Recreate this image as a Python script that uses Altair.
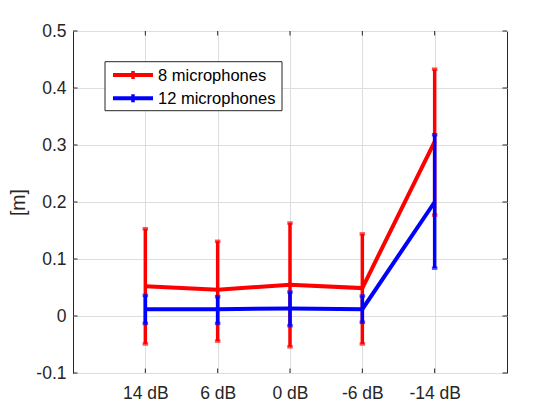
import json
import altair as alt
import pandas as pd

categories = ["14 dB", "6 dB", "0 dB", "-6 dB", "-14 dB"]
series_names = ["8 microphones", "12 microphones"]
series_colors = ["#ff0000", "#0000ff"]
red_mean = [0.052, 0.046, 0.055, 0.049, 0.306]
red_low = [-0.049, -0.044, -0.054, -0.049, 0.177]
red_high = [0.153, 0.131, 0.163, 0.144, 0.433]
blue_mean = [0.012, 0.012, 0.013, 0.012, 0.200]
blue_low = [-0.013, -0.013, -0.017, -0.011, 0.084]
blue_high = [0.036, 0.034, 0.042, 0.035, 0.318]
y_ticks = [-0.1, 0.0, 0.1, 0.2, 0.3, 0.4, 0.5]

rows = []
for name, m, lo, hi in [(series_names[0], red_mean, red_low, red_high),
                        (series_names[1], blue_mean, blue_low, blue_high)]:
    for i, c in enumerate(categories):
        rows.append({"series": name, "x": i + 1, "mean": m[i], "lo": lo[i], "hi": hi[i]})
df = pd.DataFrame(rows)

W, H = 434, 342
FONT = "Liberation Sans"
TXT = "#262626"
FS = 17.5

label_expr = json.dumps(categories) + "[datum.value - 1]"
xscale = alt.Scale(domain=[0, 6], nice=False, zero=False)
yscale = alt.Scale(domain=[-0.1, 0.5], nice=False, zero=False)

xaxis = alt.Axis(values=[1, 2, 3, 4, 5], labelExpr=label_expr, title=None,
                 grid=True, labelPadding=11)
yaxis = alt.Axis(values=y_ticks, labelExpr="replace(format(datum.value, '.1~f'), '\u2212', '-')",
                 title="[m]", grid=True, labelPadding=7, titlePadding=7,
                 titleFontSize=19.5)

layers = []
for k, name in enumerate(series_names):
    d = df[df.series == name]
    base = alt.Chart(d)
    col = series_colors[k]
    if k == 0:
        line = base.mark_line(strokeWidth=4, color=col).encode(
            x=alt.X("x:Q", scale=xscale, axis=xaxis),
            y=alt.Y("mean:Q", scale=yscale, axis=yaxis),
        )
    else:
        line = base.mark_line(strokeWidth=4, color=col).encode(
            x=alt.X("x:Q", scale=xscale),
            y=alt.Y("mean:Q", scale=yscale),
        )
    bars = base.mark_rule(strokeWidth=3.5, color=col).encode(
        x="x:Q", y="lo:Q", y2="hi:Q")
    cap_lo = base.mark_tick(thickness=3.5, size=5.5, color=col, orient="horizontal").encode(
        x="x:Q", y="lo:Q")
    cap_hi = base.mark_tick(thickness=3.5, size=5.5, color=col, orient="horizontal").encode(
        x="x:Q", y="hi:Q")
    layers += [line, bars, cap_lo, cap_hi]

xt = pd.DataFrame({"v": [1, 2, 3, 4, 5]})
yt = pd.DataFrame({"v": y_ticks})
tick_c = TXT
tx_bot = alt.Chart(xt).mark_rule(color=tick_c, strokeWidth=1).encode(
    x="v:Q", y=alt.value(H), y2=alt.value(H - 4.5))
tx_top = alt.Chart(xt).mark_rule(color=tick_c, strokeWidth=1).encode(
    x="v:Q", y=alt.value(0), y2=alt.value(4.5))
ty_left = alt.Chart(yt).mark_rule(color=tick_c, strokeWidth=1).encode(
    y="v:Q", x=alt.value(0), x2=alt.value(4.5))
ty_right = alt.Chart(yt).mark_rule(color=tick_c, strokeWidth=1).encode(
    y="v:Q", x=alt.value(W), x2=alt.value(W - 4.5))

# legend box drawn as marks
one = pd.DataFrame({"a": [0]})
leg = [alt.Chart(one).mark_rect(fill="white", stroke=TXT, strokeWidth=1).encode(
    x=alt.value(32), x2=alt.value(209), y=alt.value(30.7), y2=alt.value(79.7))]
row_y = [44.0, 67.3]
for k, name in enumerate(series_names):
    col = series_colors[k]
    dn = pd.DataFrame({"name": [name]})
    leg.append(alt.Chart(dn).mark_rule(color=col, strokeWidth=4).encode(
        x=alt.value(40), x2=alt.value(80), y=alt.value(row_y[k])))
    leg.append(alt.Chart(dn).mark_rule(color=col, strokeWidth=3.5).encode(
        x=alt.value(60), y=alt.value(row_y[k] - 4), y2=alt.value(row_y[k] + 4)))
    leg.append(alt.Chart(dn).mark_text(align="left", baseline="middle", font=FONT,
                                       fontSize=16.5, color="#000000", dy=1).encode(
        x=alt.value(85), y=alt.value(row_y[k]), text="name:N"))

chart = alt.layer(*layers, tx_bot, tx_top, ty_left, ty_right, *leg).properties(
    width=W, height=H,
    autosize=alt.AutoSizeParams(type="none"),
    padding={"left": 65, "top": 23, "right": 30, "bottom": 30},
    background="white",
).configure_view(
    stroke=TXT, strokeWidth=1
).configure_axis(
    domain=False, ticks=False, gridColor="#dedede", gridWidth=1,
    labelFont=FONT, labelFontSize=FS, labelColor=TXT,
    titleFont=FONT, titleFontSize=FS, titleColor=TXT, titleFontWeight="normal",
)

chart.save("out.html", embed_options={"renderer": "svg", "actions": False})
